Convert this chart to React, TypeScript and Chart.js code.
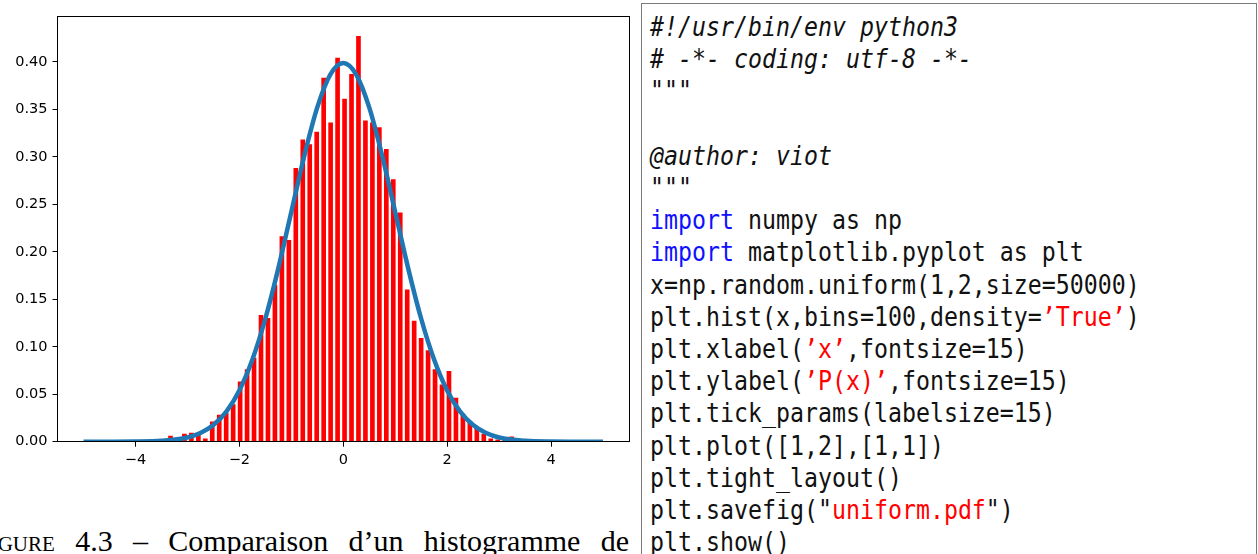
import React, { useEffect, useRef } from "react";
import { Chart, registerables } from "chart.js";

Chart.register(...registerables);

// ---- Histogram data (bin centers and densities) ----
const binCenters = [
  -3.325, -3.191, -3.057, -2.923, -2.789, -2.655, -2.521, -2.387, -2.253, -2.119,
  -1.985, -1.851, -1.717, -1.583, -1.449, -1.315, -1.181, -1.047, -0.913, -0.779,
  -0.645, -0.511, -0.377, -0.243, -0.109, 0.025, 0.159, 0.293, 0.427, 0.561,
  0.695, 0.829, 0.963, 1.097, 1.231, 1.365, 1.499, 1.633, 1.767, 1.901,
  2.035, 2.169, 2.303, 2.437, 2.571, 2.705, 2.839, 2.973, 3.107, 3.241,
];
const binDensity = [
  0.006, 0.0, 0.008, 0.009, 0.007, 0.003, 0.021, 0.028, 0.030, 0.039,
  0.063, 0.076, 0.088, 0.133, 0.130, 0.165, 0.216, 0.212, 0.288, 0.318,
  0.313, 0.326, 0.383, 0.336, 0.404, 0.361, 0.387, 0.427, 0.338, 0.336,
  0.331, 0.308, 0.276, 0.241, 0.160, 0.127, 0.109, 0.096, 0.076, 0.060,
  0.074, 0.046, 0.029, 0.021, 0.014, 0.008, 0.003, 0.002, 0.002, 0.005,
];

// ---- Fitted curve ----
const curveX = [
  -5, -4.5, -4, -3.5, -3, -2.75, -2.5, -2.25, -2, -1.75, -1.5, -1.25, -1, -0.75, -0.5, -0.25,
  0, 0.25, 0.5, 0.75, 1, 1.25, 1.5, 1.75, 2, 2.25, 2.5, 2.75, 3, 3.5, 4, 4.5, 5,
];
const curveY = [
  0.0, 0.0, 0.0001, 0.0009, 0.0044, 0.0091, 0.0175, 0.0317, 0.054, 0.0863, 0.1295, 0.1826, 0.242, 0.3011, 0.3521, 0.3867,
  0.3989, 0.3867, 0.3521, 0.3011, 0.242, 0.1826, 0.1295, 0.0863, 0.054, 0.0317, 0.0175, 0.0091, 0.0044, 0.0009, 0.0001, 0.0, 0.0,
];

const xTicks = [-4, -2, 0, 2, 4];
const yTicks = [0, 0.05, 0.1, 0.15, 0.2, 0.25, 0.3, 0.35, 0.4];
const xLimits = [-5.5, 5.5];
const yLimits = [0, 0.4484];

// ---- Code listing ----
type Seg = { t: string; c?: "k" | "s" };
const commentLines: string[] = [
  "#!/usr/bin/env python3",
  "# -*- coding: utf-8 -*-",
  "\"\"\"",
  "",
  "@author: viot",
  "\"\"\"",
];
const codeLines: Seg[][] = [
  [{ t: "import", c: "k" }, { t: " numpy as np" }],
  [{ t: "import", c: "k" }, { t: " matplotlib.pyplot as plt" }],
  [{ t: "x=np.random.uniform(1,2,size=50000)" }],
  [{ t: "plt.hist(x,bins=100,density=" }, { t: "\u2019True\u2019", c: "s" }, { t: ")" }],
  [{ t: "plt.xlabel(" }, { t: "\u2019x\u2019", c: "s" }, { t: ",fontsize=15)" }],
  [{ t: "plt.ylabel(" }, { t: "\u2019P(x)\u2019", c: "s" }, { t: ",fontsize=15)" }],
  [{ t: "plt.tick_params(labelsize=15)" }],
  [{ t: "plt.plot([1,2],[1,1])" }],
  [{ t: "plt.tight_layout()" }],
  [{ t: "plt.savefig(\"" }, { t: "uniform.pdf", c: "s" }, { t: "\")" }],
  [{ t: "plt.show()" }],
];

const captionText = "Figure 4.3 \u2013 Comparaison d\u2019un histogramme de";

const minusFmt = (v: number) => (v < 0 ? "\u2212" + Math.abs(v) : String(v));

const framePlugin = {
  id: "frame",
  afterDatasetsDraw(chart: any) {
    const { ctx, chartArea: a } = chart;
    ctx.save();
    ctx.strokeStyle = "#000";
    ctx.lineWidth = 1;
    const l = Math.floor(a.left) + 0.5;
    const t = Math.floor(a.top) + 0.5;
    const r = Math.floor(a.right) + 0.5;
    const b = Math.floor(a.bottom) + 0.5;
    ctx.strokeRect(l, t, r - l, b - t);
    ctx.restore();
  },
};

function HistChart() {
  const ref = useRef<HTMLCanvasElement | null>(null);
  useEffect(() => {
    if (!ref.current) return;
    const tickFont = { family: "'DejaVu Sans', sans-serif", size: 14.5 };
    const chart = new Chart(ref.current, {
      type: "bar",
      data: {
        datasets: [
          {
            type: "line",
            label: "curve",
            data: curveX.map((x, i) => ({ x, y: curveY[i] })),
            borderColor: "#1f77b4",
            borderWidth: 4.5,
            pointRadius: 0,
            fill: false,
            cubicInterpolationMode: "monotone",
            order: 0,
          } as any,
          {
            type: "bar",
            label: "hist",
            data: binCenters.map((x, i) => ({ x, y: binDensity[i] })),
            backgroundColor: "#ff0000",
            borderWidth: 0,
            barThickness: 4,
            order: 1,
          } as any,
        ],
      },
      options: {
        animation: false,
        responsive: false,
        devicePixelRatio: 1,
        layout: { padding: { left: 0, right: 11, top: 16, bottom: 0 } },
        plugins: { legend: { display: false }, tooltip: { enabled: false } },
        scales: {
          x: {
            type: "linear",
            min: xLimits[0],
            max: xLimits[1],
            offset: false,
            grid: { display: true, drawOnChartArea: false, drawTicks: true, tickLength: 5, color: "#000", offset: false },
            border: { display: false },
            ticks: { color: "#000", font: tickFont, padding: 5, callback: (v: any) => minusFmt(Number(v)) },
            afterBuildTicks: (s: any) => { s.ticks = xTicks.map((v) => ({ value: v })); },
            afterFit: (s: any) => { s.height = 38.3; },
          },
          y: {
            type: "linear",
            min: yLimits[0],
            max: yLimits[1],
            grid: { display: true, drawOnChartArea: false, drawTicks: true, tickLength: 5, color: "#000" },
            border: { display: false },
            ticks: { color: "#000", font: tickFont, padding: 5, callback: (v: any) => Number(v).toFixed(2) },
            afterBuildTicks: (s: any) => { s.ticks = yTicks.map((v) => ({ value: v })); },
            afterFit: (s: any) => { s.width = 57.5; },
          },
        },
      },
      plugins: [framePlugin],
    } as any);
    return () => chart.destroy();
  }, []);
  return <canvas ref={ref} width={640} height={480} style={{ position: "absolute", left: 0, top: 0 }} />;
}

export default function App() {
  const mono = "'DejaVu Sans Mono', monospace";
  const lineH = 32.2;
  const firstTop = 11;
  const allLines: { segs: Seg[]; italic: boolean }[] = [
    ...commentLines.map((t) => ({ segs: [{ t }], italic: true })),
    ...codeLines.map((segs) => ({ segs, italic: false })),
  ];
  const words = captionText.split(" ");
  return (
    <div
      style={{
        position: "absolute",
        left: 0,
        top: 0,
        width: 1258,
        height: 554,
        overflow: "hidden",
        background: "#fff",
      }}
    >
      <HistChart />
      {/* code box */}
      <div
        style={{
          position: "absolute",
          left: 641,
          top: 3,
          width: 614,
          height: 600,
          borderLeft: "1px solid #7a7a7a",
          borderTop: "1px solid #7a7a7a",
          borderRight: "1px solid #7a7a7a",
        }}
      />
      {allLines.map((ln, i) => (
        <div
          key={i}
          style={{
            position: "absolute",
            left: 650,
            top: firstTop + i * lineH,
            height: lineH,
            lineHeight: lineH + "px",
            fontFamily: mono,
            fontSize: 26,
            fontStyle: ln.italic ? "italic" : "normal",
            whiteSpace: "pre",
            color: "#111",
            transform: "scaleX(0.894)",
            transformOrigin: "0 0",
          }}
        >
          {ln.segs.map((s, j) => (
            <span key={j} style={{ color: s.c === "k" ? "#1010ff" : s.c === "s" ? "#ff0000" : "#111" }}>
              {s.t}
            </span>
          ))}
        </div>
      ))}
      {/* caption */}
      <div
        style={{
          position: "absolute",
          left: -26,
          top: 524,
          width: 655,
          height: 34,
          lineHeight: "34px",
          fontFamily: "'Liberation Serif', serif",
          fontSize: 30,
          color: "#000",
          whiteSpace: "nowrap",
          display: "flex",
          justifyContent: "space-between",
        }}
      >
        {words.map((w, i) => (
          <span key={i} style={{ fontVariant: i === 0 ? "small-caps" : "normal" }}>
            {i === 0 ? "F" + w.slice(1).toLowerCase() : w}
          </span>
        ))}
      </div>
    </div>
  );
}
